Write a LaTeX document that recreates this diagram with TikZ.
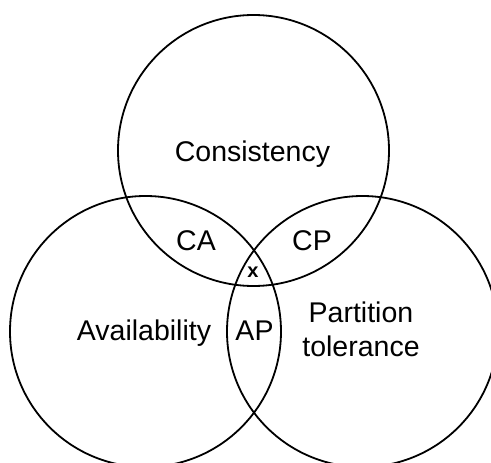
\documentclass[tikz,border=0pt]{standalone}
\usepackage{fontspec}
\setmainfont{Liberation Sans}
\begin{document}
\begin{tikzpicture}[x=1pt,y=-1pt,
  ring/.style={draw=black, line width=1.8pt},
  lbl/.style={font=\fontsize{28.5}{34}\selectfont, anchor=base, inner sep=0pt, align=center},
  mark x/.style={font=\fontsize{20}{24}\selectfont\bfseries, anchor=base, inner sep=0pt}]
\useasboundingbox (0,0) rectangle (491,463);
\begin{scope}
\clip (0,0) rectangle (491,463);
\draw[ring] (253.5,150.5) circle[radius=135.5pt];
\draw[ring] (145.5,331.5) circle[radius=135.5pt];
\draw[ring] (362.5,331.5) circle[radius=135.5pt];
\end{scope}
\node[lbl] (cons) at (252.5,161.7) {Consistency};
\node[lbl] (ca) at (196,250.7) {CA};
\node[lbl] (cp) at (312,250.7) {CP};
\node[mark x] (x) at (253,277.7) {x};
\node[lbl] (avail) at (144,340.7) {Availability};
\node[lbl] (ap) at (254.5,340.7) {AP};
\node[lbl] (part) at (361,356.7) {Partition\\tolerance};
\end{tikzpicture}
\end{document}
